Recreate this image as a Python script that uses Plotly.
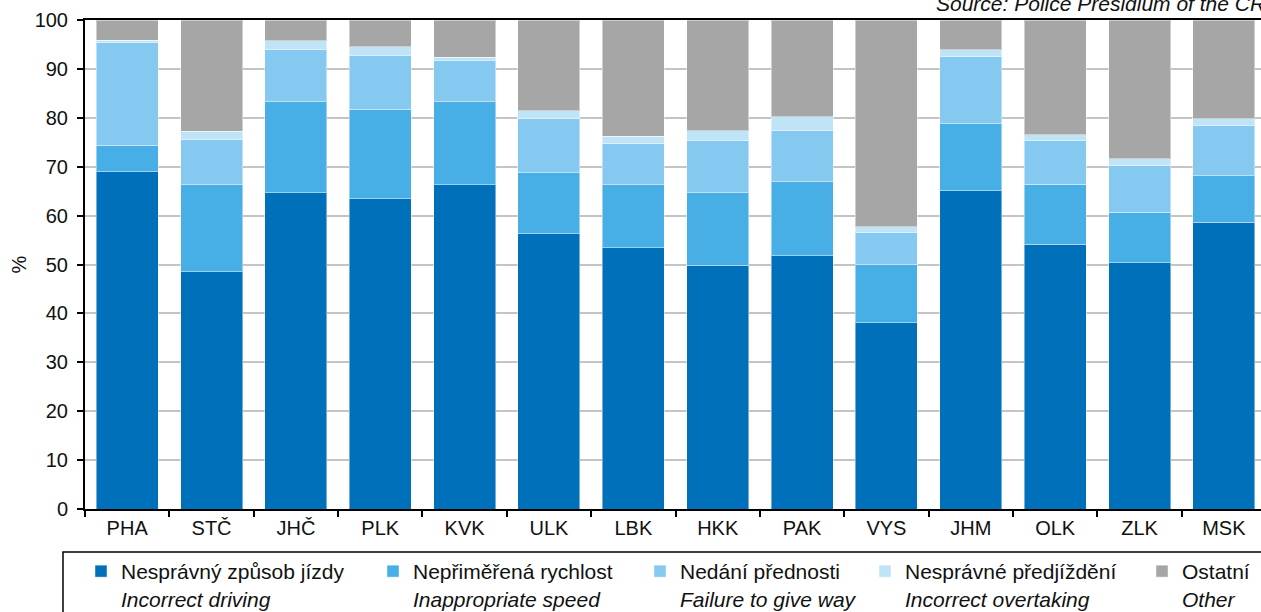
import plotly.graph_objects as go

regions = ["PHA", "STČ", "JHČ", "PLK", "KVK", "ULK", "LBK", "HKK", "PAK", "VYS", "JHM", "OLK", "ZLK", "MSK"]

incorrect_driving = [69.0, 48.5, 64.7, 63.4, 66.3, 56.3, 53.4, 49.8, 51.8, 38.1, 65.1, 54.1, 50.4, 58.6]
inappropriate_speed = [5.4, 17.8, 18.6, 18.3, 17.0, 12.5, 12.9, 14.9, 15.1, 11.8, 13.7, 12.3, 10.3, 9.6]
failure_give_way = [21.1, 9.2, 10.6, 11.1, 8.5, 11.0, 8.4, 10.7, 10.5, 6.6, 13.7, 8.9, 9.5, 10.3]
incorrect_overtaking = [0.4, 1.7, 1.9, 1.7, 0.6, 1.6, 1.5, 2.0, 2.8, 1.2, 1.4, 1.2, 1.4, 1.3]
other = [4.1, 22.8, 4.2, 5.5, 7.6, 18.6, 23.8, 22.6, 19.8, 42.3, 6.1, 23.5, 28.4, 20.2]

series_cz = ["Nesprávný způsob jízdy", "Nepřiměřená rychlost", "Nedání přednosti",
             "Nesprávné předjíždění", "Ostatní"]
series_en = ["Incorrect driving", "Inappropriate speed", "Failure to give way",
             "Incorrect overtaking", "Other"]
values = [incorrect_driving, inappropriate_speed, failure_give_way, incorrect_overtaking, other]
colors = ["#0070BB", "#48AEE6", "#85C8F0", "#BFE4F7", "#A6A6A6"]

y_ticks = [0, 10, 20, 30, 40, 50, 60, 70, 80, 90, 100]

W, H = 1261, 612
FONT = "Liberation Sans, Arial, sans-serif"
FS = 20
LFS = 21

fig = go.Figure()
legend_text_x = [121, 413, 680, 905, 1182]
for i, (cz, en, vals, col) in enumerate(zip(series_cz, series_en, values, colors)):
    lname = "legend" if i == 0 else f"legend{i+1}"
    fig.add_trace(go.Bar(
        x=regions, y=vals, name=f"{cz}<br><i>{en}</i>",
        marker=dict(color=col, line=dict(color="rgba(255,255,255,0.45)", width=1)),
        legend=lname, hoverinfo="skip",
    ))

layout_legends = {}
for i, tx in enumerate(legend_text_x):
    lname = "legend" if i == 0 else f"legend{i+1}"
    layout_legends[lname] = dict(
        x=(tx - 40) / W, y=1 - 551 / H, xref="container", yref="container",
        xanchor="left", yanchor="top", orientation="v", valign="top",
        font=dict(family=FONT, size=LFS, color="#111111"),
        bgcolor="rgba(0,0,0,0)", borderwidth=0, itemwidth=30,
    )

pl, pt, pb = 85, 20, 612 - 509
pw = W - pl
ph = H - pt - pb

fig.update_layout(
    width=W, height=H,
    barmode="stack", bargap=0.265,
    plot_bgcolor="white", paper_bgcolor="white",
    margin=dict(l=pl, r=0, t=pt, b=pb, autoexpand=False),
    font=dict(family=FONT, size=FS, color="#111111"),
    showlegend=True,
    **layout_legends,
    xaxis=dict(
        range=[-0.5, 13.44], tickson="boundaries", ticks="outside", ticklen=6,
        tickcolor="black", tickwidth=1.5, showline=True, linecolor="black", linewidth=1.5,
        mirror=True, showgrid=False, tickangle=0, automargin=False,
        tickfont=dict(family=FONT, size=FS, color="#111111"),
    ),
    yaxis=dict(
        range=[0, 100], tickvals=y_ticks, ticks="outside", ticklen=6, tickcolor="black",
        tickwidth=1.5, showline=True, linecolor="black", linewidth=2, automargin=False,
        showgrid=True, gridcolor="#C4C4C4", gridwidth=1.5, zeroline=False,
        ticklabelstandoff=5,
        tickfont=dict(family=FONT, size=FS, color="#111111"),
    ),
    annotations=[
        dict(text="<i>Source: Police Presidium of the CR</i>", xref="paper", yref="paper",
             x=1, y=1, xanchor="right", yanchor="bottom", xshift=6, yshift=3, showarrow=False,
             font=dict(family=FONT, size=21, color="#111111")),
        dict(text="%", xref="paper", yref="paper", x=0, y=0.5, xanchor="center",
             yanchor="middle", xshift=-(85 - 18), textangle=-90, showarrow=False,
             font=dict(family=FONT, size=FS, color="#111111")),
    ],
    shapes=[dict(
        type="rect", xref="paper", yref="paper",
        x0=(63 - 85) / pw, x1=1.05, y0=-(552 - 509) / ph, y1=-(700 - 509) / ph,
        line=dict(color="black", width=1.5), fillcolor="rgba(0,0,0,0)", layer="above",
    )],
)

fig.write_html(
    "out.html",
    config={"displayModeBar": False, "responsive": False},
    post_script=(
        "document.body.style.margin='0';document.body.style.overflow='hidden';"
        "document.documentElement.style.overflow='hidden';"
    ),
)
